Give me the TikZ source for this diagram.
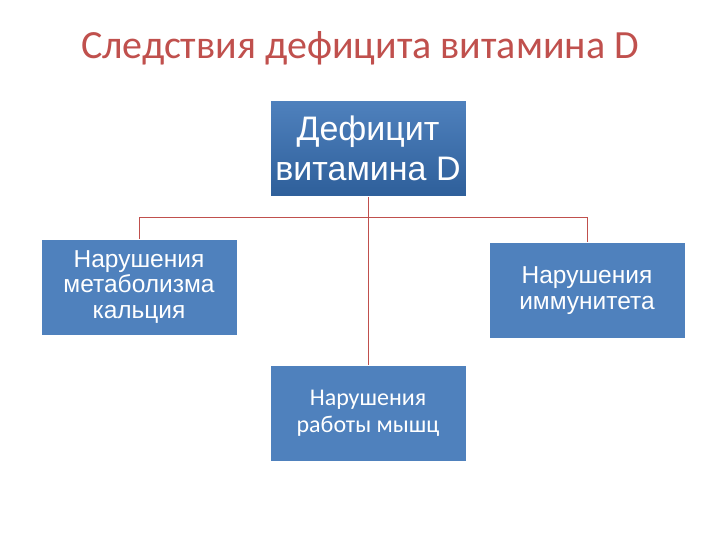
\documentclass[tikz,border=0pt]{standalone}
\usepackage{fontspec}
\setmainfont{Liberation Sans}
\newfontfamily\calfont{Carlito}
\definecolor{boxblue}{HTML}{4F81BD}
\definecolor{darkblue}{HTML}{2E5F9A}
\definecolor{titlered}{HTML}{C0504D}
\definecolor{linered}{HTML}{C0504D}
\begin{document}
\begin{tikzpicture}[x=1pt,y=-1pt,
  bx/.style={fill=boxblue,draw=white,line width=0.8pt,minimum width=196pt,minimum height=96pt,text=white,align=center,inner sep=0pt},
  conn/.style={draw=linered,line width=1pt}]
\useasboundingbox[fill=white] (0,0) rectangle (720,540);
\node[text=titlered,font=\calfont\fontsize{40}{48}\selectfont] (title) at (360,48) {Следствия дефицита витамина D};
\node[bx,top color=boxblue,bottom color=darkblue,font=\fontsize{34}{40}\selectfont] (top) at (368,148.5) {Дефицит\\витамина D};
\node[bx,font=\fontsize{24.5}{25.5}\selectfont] (left) at (139,287) {Нарушения\\метаболизма\\кальция};
\node[bx,font=\fontsize{24.5}{25.5}\selectfont] (right) at (587,290.5) {Нарушения\\иммунитета};
\node[bx,font=\calfont\fontsize{24}{27}\selectfont] (bot) at (368,413) {Нарушения\\работы мышц};
\draw[conn] (top.south) -- (bot.north);
\draw[conn] (left.north) -- (139,218) -- (587,218) -- (right.north);
\end{tikzpicture}
\end{document}
